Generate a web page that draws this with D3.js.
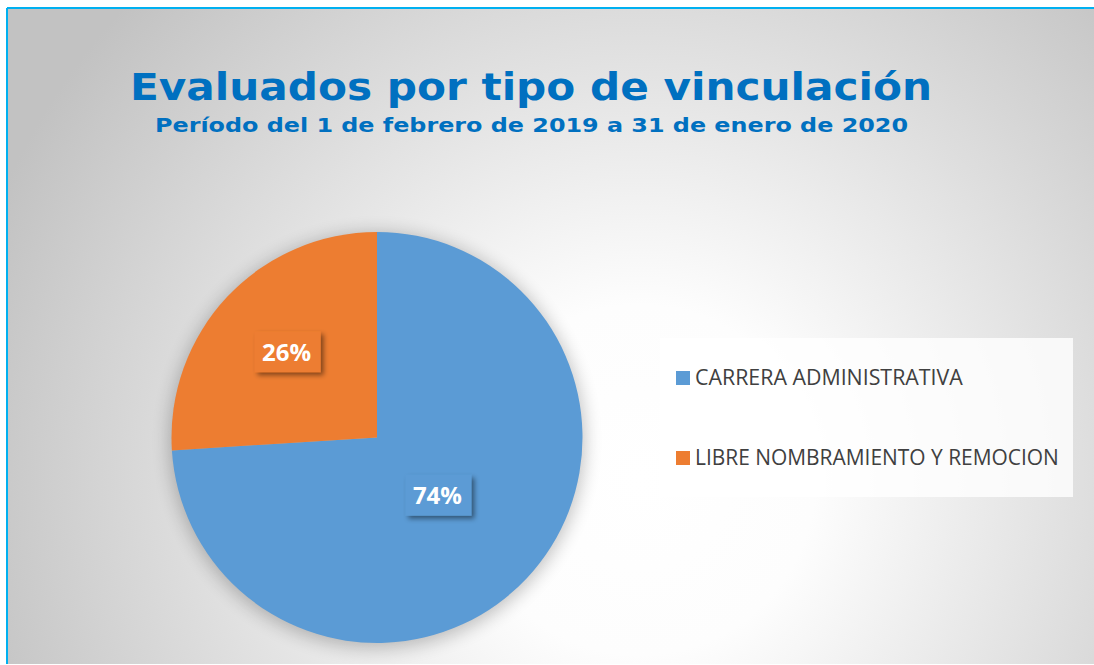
<!DOCTYPE html>
<html>
<head>
<meta charset="utf-8">
<script src="https://d3js.org/d3.v7.min.js"></script>
<style>
body { margin: 0; background: #fff; }
</style>
</head>
<body>
<div id="canvas"></div>
<script>
var width = 1094, height = 665;

var categories = ["CARRERA ADMINISTRATIVA", "LIBRE NOMBRAMIENTO Y REMOCION"];
var values = [74, 26];
var colors = ["#5b9bd5", "#ed7d31"];
var titleText = "Evaluados por tipo de vinculación";
var subtitleText = "Período del 1 de febrero de 2019 a 31 de enero de 2020";

var svg = d3.select("#canvas").append("svg").attr("width", width).attr("height", height);
var defs = svg.append("defs");

var grad = defs.append("radialGradient").attr("id", "bg")
  .attr("gradientUnits", "userSpaceOnUse")
  .attr("cx", 640).attr("cy", 480).attr("r", 700);
grad.append("stop").attr("offset", 0).attr("stop-color", "#ffffff");
grad.append("stop").attr("offset", 0.25).attr("stop-color", "#fdfdfd");
grad.append("stop").attr("offset", 1).attr("stop-color", "#c2c2c2");

var blur = defs.append("filter").attr("id", "pieShadow")
  .attr("x", -0.3).attr("y", -0.3).attr("width", 1.6).attr("height", 1.6);
blur.append("feGaussianBlur").attr("stdDeviation", 9);

var boxShadow = defs.append("filter").attr("id", "boxShadow")
  .attr("x", -0.3).attr("y", -0.3).attr("width", 1.6).attr("height", 1.6);
boxShadow.append("feDropShadow").attr("dx", 3).attr("dy", 3).attr("stdDeviation", 2.5)
  .attr("flood-color", "#000").attr("flood-opacity", 0.45);

// chart area + frame
svg.append("rect").attr("x", 8).attr("y", 9).attr("width", width - 8).attr("height", 655)
  .attr("fill", "url(#bg)");
svg.append("line").attr("x1", 7).attr("y1", 8).attr("x2", width).attr("y2", 8)
  .attr("stroke", "#00b0f0").attr("stroke-width", 2);
svg.append("line").attr("x1", 7).attr("y1", 8).attr("x2", 7).attr("y2", 664)
  .attr("stroke", "#00b0f0").attr("stroke-width", 2);

function fitText(sel, target) {
  var w = sel.node().getComputedTextLength();
  var fs = parseFloat(sel.attr("font-size"));
  sel.attr("font-size", fs * target / w);
}

svg.append("text").attr("x", 531).attr("y", 100)
  .attr("text-anchor", "middle")
  .attr("font-family", "DejaVu Sans").attr("font-weight", "bold")
  .attr("font-size", 37).attr("fill", "#0070c0")
  .attr("textLength", 802).attr("lengthAdjust", "spacingAndGlyphs")
  .text(titleText);

svg.append("text").attr("x", 531.5).attr("y", 132)
  .attr("text-anchor", "middle")
  .attr("font-family", "DejaVu Sans").attr("font-weight", "bold")
  .attr("font-size", 19.5).attr("fill", "#0070c0")
  .attr("textLength", 753).attr("lengthAdjust", "spacingAndGlyphs")
  .text(subtitleText);

// pie
var cx = 377, cy = 437.5, r = 205.5;
var pie = d3.pie().sort(null).value(function(d) { return d; });
var arcs = pie(values);
var arc = d3.arc().innerRadius(0).outerRadius(r);

var g = svg.append("g").attr("transform", "translate(" + cx + "," + cy + ")");
g.append("circle").attr("r", r + 2).attr("cy", 3)
  .attr("fill", "#000").attr("opacity", 0.24).attr("filter", "url(#pieShadow)");
g.selectAll("path.slice").data(arcs).enter().append("path")
  .attr("class", "slice")
  .attr("d", arc)
  .attr("fill", function(d, i) { return colors[i]; });

// data labels
var labelR = [0.41, 0.61];
var total = d3.sum(values);
arcs.forEach(function(d, i) {
  var la = d3.arc().innerRadius(0).outerRadius(2 * r * labelR[i]);
  var c = la.centroid(d);
  var bw = 66, bh = 41;
  var lg = g.append("g").attr("transform", "translate(" + (c[0] + 2 * i) + "," + c[1] + ")");
  lg.append("rect").attr("x", -bw / 2).attr("y", -bh / 2).attr("width", bw).attr("height", bh)
    .attr("fill", colors[i]).attr("filter", "url(#boxShadow)");
  lg.append("text").attr("x", -1).attr("y", 9)
    .attr("text-anchor", "middle")
    .attr("font-family", "Open Sans").attr("font-weight", "bold")
    .attr("font-size", 24).attr("fill", "#fff")
    .text(Math.round(d.data / total * 100) + "%");
});

// legend
svg.append("rect").attr("x", 660).attr("y", 338).attr("width", 413).attr("height", 159)
  .attr("fill", "#fff").attr("opacity", 0.8);
var legY = [378, 458];
var legW = [268, 364];
categories.forEach(function(c, i) {
  svg.append("rect").attr("x", 676).attr("y", legY[i] - 7).attr("width", 14).attr("height", 14)
    .attr("fill", colors[i]);
  var t = svg.append("text").attr("x", 695).attr("y", legY[i] + 7)
    .attr("font-family", "Open Sans").attr("font-size", 19)
    .attr("fill", "#404040").text(c);
  fitText(t, legW[i]);
});
</script>
</body>
</html>
